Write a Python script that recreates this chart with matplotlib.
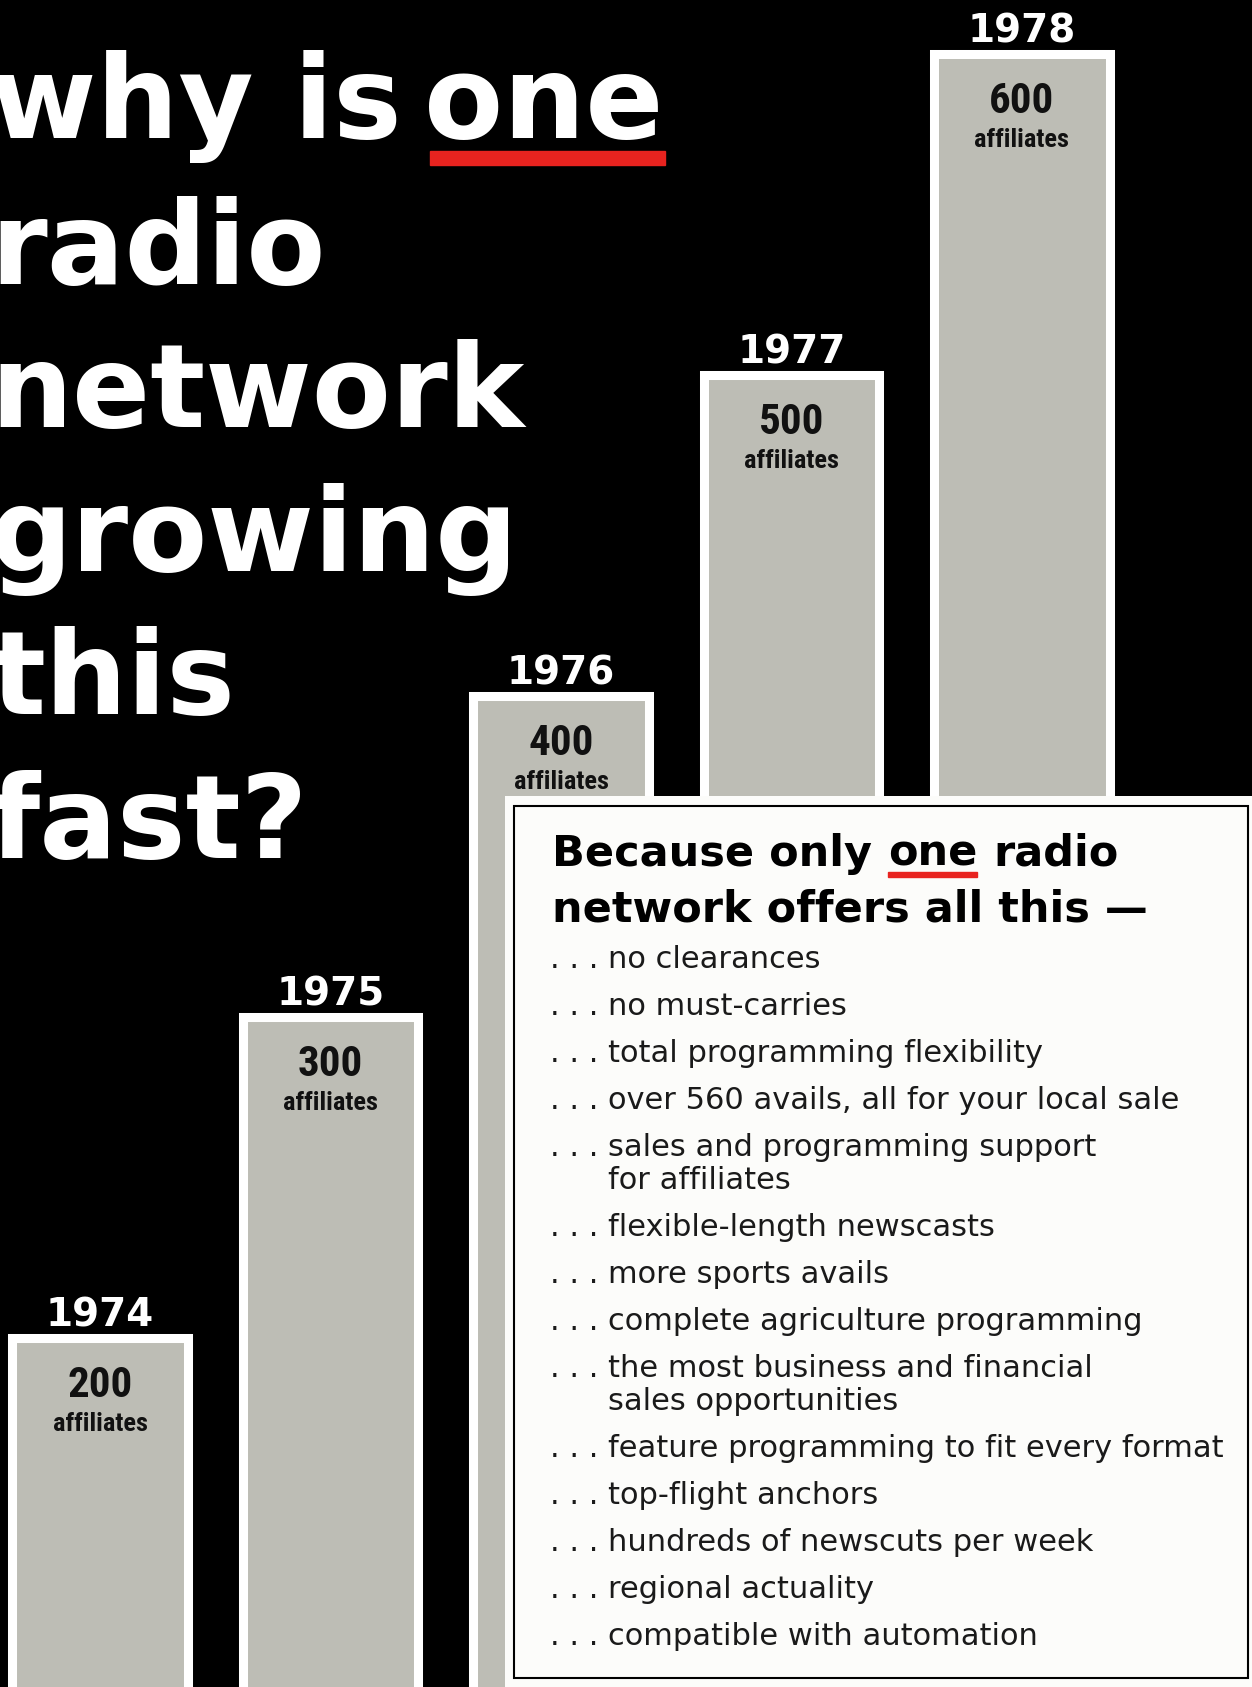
import matplotlib
matplotlib.use("Agg")
import matplotlib.pyplot as plt
from matplotlib.patches import Rectangle
from matplotlib import font_manager

years = ["1974", "1975", "1976", "1977", "1978"]
affiliates = [200, 300, 400, 500, 600]
unit_label = "affiliates"

title_lines = ["why is", "one", "radio", "network", "growing", "this", "fast?"]
heading_1 = ["Because only", "one", "radio"]
heading_2 = "network offers all this \u2014"
offers = [
    "no clearances",
    "no must-carries",
    "total programming flexibility",
    "over 560 avails, all for your local sale",
    "sales and programming support\nfor affiliates",
    "flexible-length newscasts",
    "more sports avails",
    "complete agriculture programming",
    "the most business and financial\nsales opportunities",
    "feature programming to fit every format",
    "top-flight anchors",
    "hundreds of newscuts per week",
    "regional actuality",
    "compatible with automation",
]

GRAY = "#bdbdb5"
RED = "#e8231f"
W, H = 1252, 1687

# pick a narrow font for the numbers inside the bars if one is around
names = {f.name for f in font_manager.fontManager.ttflist}
cond = next((n for n in ["Liberation Sans Narrow", "DejaVu Sans Condensed",
                         "Roboto Condensed", "Open Sans Condensed"] if n in names), "Roboto")

fig = plt.figure(figsize=(W / 100, H / 100), dpi=100, facecolor="black")
ax = fig.add_axes([0, 0, 1, 1])
ax.set_facecolor("black")
ax.set_xlim(-0.434, 4.998)
ax.set_ylim(91.3, 616.8)
ax.axis("off")

x = list(range(len(years)))
ax.bar(x, affiliates, width=0.76, color=GRAY, edgecolor="white", linewidth=6.5)

for i, (yr, v) in enumerate(zip(years, affiliates)):
    ax.annotate(yr, (i, v), xytext=(0, 8), textcoords="offset points",
                ha="center", va="baseline", color="white", fontsize=28,
                family="DejaVu Sans", fontweight="bold")
    ax.annotate(str(v), (i, v), xytext=(0, -34), textcoords="offset points",
                ha="center", va="center", color="#111111", fontsize=31,
                family=cond, fontweight="bold")
    ax.annotate(unit_label, (i, v), xytext=(0, -62), textcoords="offset points",
                ha="center", va="center", color="#111111", fontsize=19,
                family=cond, fontweight="bold")


def ftxt(px, py, s, **kw):
    return fig.text(px / W, 1 - py / H, s, **kw)


def rect(x0, y0, x1, y1, **kw):
    r = Rectangle((x0 / W, 1 - y1 / H), (x1 - x0) / W, (y1 - y0) / H,
                  transform=fig.transFigure, **kw)
    fig.add_artist(r)
    return r


renderer = fig.canvas.get_renderer()

# big headline on the left (cropped at the left edge like the print)
big = dict(color="white", fontsize=83, family="DejaVu Sans", fontweight="bold", va="baseline")
t = ftxt(-10, 138, title_lines[0], **big)
bb = t.get_window_extent(renderer)
t = ftxt(bb.x1 + 22, 138, title_lines[1], **big)
bb = t.get_window_extent(renderer)
rect(bb.x0 + 6, 151, bb.x1 + 2, 165, color=RED, zorder=4)
for k, line in enumerate(title_lines[2:]):
    ftxt(-10, 284 + k * 143.4, line, **big)

# white box with the list
rect(505, 796, 1252, 1687, facecolor="#fcfcfa", edgecolor="none", zorder=2)
rect(514, 806, 1248, 1678, facecolor="none", edgecolor="black", linewidth=1.5, zorder=2)

head = dict(color="black", fontsize=31, family="DejaVu Sans", fontweight="bold", va="baseline")
xpos = 552
for k, part in enumerate(heading_1):
    t = ftxt(xpos, 866, part, **head)
    bb = t.get_window_extent(renderer)
    if part == "one":
        rect(bb.x0, 872, bb.x1, 877, color=RED, zorder=4)
    xpos = bb.x1 + 16
ftxt(552, 922, heading_2, **head)

body = dict(color="#1a1a1a", fontsize=22, family="DejaVu Sans", va="baseline")
y = 968
for item in offers:
    ftxt(550, y, ". . .", **body)
    for j, sub in enumerate(item.split("\n")):
        ftxt(608, y + j * 33, sub, **body)
    y += 47 + 33 * item.count("\n")

fig.savefig("out.png", dpi=100, facecolor=fig.get_facecolor())
